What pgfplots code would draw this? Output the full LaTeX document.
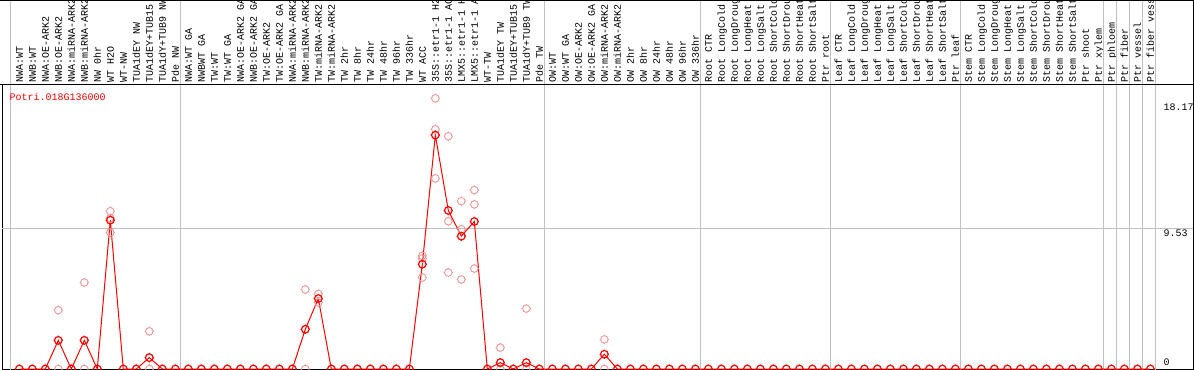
\documentclass[border=0pt]{standalone}
\usepackage{pgfplots}
\pgfplotsset{compat=1.18}
\usepackage{fontspec}
\setmainfont{Liberation Mono}
\definecolor{pinkrep}{RGB}{238,150,150}
\definecolor{gridgray}{RGB}{192,192,192}
\pgfdeclareplotmark{tcirc}{%
  \pgfpathcircle{\pgfpointorigin}{\pgfplotmarksize}%
  \pgfpathmoveto{\pgfqpoint{0pt}{\pgfplotmarksize}}\pgfpathlineto{\pgfqpoint{0pt}{1.22\pgfplotmarksize}}%
  \pgfpathmoveto{\pgfqpoint{0pt}{-\pgfplotmarksize}}\pgfpathlineto{\pgfqpoint{0pt}{-1.22\pgfplotmarksize}}%
  \pgfpathmoveto{\pgfqpoint{\pgfplotmarksize}{0pt}}\pgfpathlineto{\pgfqpoint{1.22\pgfplotmarksize}{0pt}}%
  \pgfpathmoveto{\pgfqpoint{-\pgfplotmarksize}{0pt}}\pgfpathlineto{\pgfqpoint{-1.22\pgfplotmarksize}{0pt}}%
  \pgfusepathqstroke}
\begin{document}
\begin{tikzpicture}[font=\fontsize{10bp}{12bp}\selectfont]
\useasboundingbox (0,0) rectangle (1194bp,370bp);
\clip (0,0) rectangle (1194bp,370bp);
\begin{axis}[
  at={(2bp,1bp)}, anchor=south west, scale only axis,
  width=1191bp, height=284bp,
  xmin=-1.331, xmax=90.28, ymin=0, ymax=19.22,
  clip=false,
  axis line style={line width=1bp},
  xtick={0,...,87},
  xticklabels={NWA:WT,NWB:WT,NWA:OE-ARK2,NWB:OE-ARK2,NWA:miRNA-ARK2,NWB:miRNA-ARK2,NW 0hr,WT H2O,WT-NW,TUA1dEY NW,TUA1dEY+TUB15,TUA1dY+TUB9 NW,Pde NW,
    NWA:WT GA,NWBWT GA,TW:WT,TW:WT GA,NWA:OE-ARK2 GA,NWB:OE-ARK2 GA,TW:OE-ARK2,TW:OE-ARK2 GA,NWA:miRNA-ARK2,NWB:miRNA-ARK2,TW:miRNA-ARK2,TW:miRNA-ARK2,TW 2hr,TW 8hr,TW 24hr,TW 48hr,TW 96hr,TW 336hr,WT ACC,35S::etr1-1 H2,35S::etr1-1 AC,LMX5::etr1-1 H,LMX5::etr1-1 A,WT-TW,TUA1dEY TW,TUA1dEY+TUB15,TUA1dY+TUB9 TW,Pde TW,
    OW:WT,OW:WT GA,OW:OE-ARK2,OW:OE-ARK2 GA,OW:miRNA-ARK2,OW:miRNA-ARK2,OW 2hr,OW 8hr,OW 24hr,OW 48hr,OW 96hr,OW 336hr,
    Root CTR,Root LongCold,Root LongDrought,Root LongHeat,Root LongSalt,Root ShortCold,Root ShortDrought,Root ShortHeat,Root ShortSalt,Ptr root,
    Leaf CTR,Leaf LongCold,Leaf LongDrought,Leaf LongHeat,Leaf LongSalt,Leaf ShortCold,Leaf ShortDrought,Leaf ShortHeat,Leaf ShortSalt,Ptr leaf,
    Stem CTR,Stem LongCold,Stem LongDrought,Stem LongHeat,Stem LongSalt,Stem ShortCold,Stem ShortDrought,Stem ShortHeat,Stem ShortSalt,Ptr shoot,Ptr xylem,
    Ptr phloem,Ptr fiber,Ptr vessel,Ptr fiber vessel},
  xticklabel pos=upper,
  xticklabel style={rotate=90, anchor=west, inner xsep=2bp, inner ysep=0pt, text height=7bp, text depth=0pt},
  ytick=\empty,
  major tick length=0pt,
  tick style={draw=none},
]
\foreach \g in {-0.65,12.4,40.4,52.4,62.4,72.4,83.4,84.4,85.4,86.4,87.4}{
  \edef\tmp{\noexpand\draw[gridgray, line width=1bp] (axis cs:\g,-1) -- (axis cs:\g,26);}\tmp
}
\draw[gridgray, line width=1bp] (axis cs:-1.331,9.53) -- (axis cs:90.28,9.53);

\addplot[only marks, pinkrep, mark=tcirc, mark size=3.8bp, line width=0.9bp] coordinates {
 (3,3.98) (3,0) (5,5.85) (5,0) (7,10.68) (7,9.24) (7,10.2) (10,2.55) (10,0)
 (22,5.38) (22,0) (23,5.08) (23,4.5)
 (31,7.66) (31,7.48) (31,6.19)
 (32,18.32) (32,16.22) (32,12.9)
 (33,15.75) (33,10.0) (33,6.53)
 (34,11.36) (34,9.46) (34,6.06)
 (35,12.11) (35,11.14) (35,6.8)
 (37,1.45) (37,0) (39,4.09) (39,0) (45,2.0) (45,0)
};

\addplot[red, line width=1bp, mark=tcirc, mark size=3.8bp, mark options={line width=1.2bp}] coordinates {
 (0,0) (1,0) (2,0) (3,1.94) (4,0) (5,1.94) (6,0) (7,10.07) (8,0) (9,0) (10,0.77) (11,0) (12,0)
 (13,0) (14,0) (15,0) (16,0) (17,0) (18,0) (19,0) (20,0) (21,0) (22,2.69) (23,4.77) (24,0)
 (25,0) (26,0) (27,0) (28,0) (29,0) (30,0) (31,7.09) (32,15.83) (33,10.73) (34,8.99) (35,9.98)
 (36,0) (37,0.43) (38,0) (39,0.43) (40,0)
 (41,0) (42,0) (43,0) (44,0) (45,1.0) (46,0) (47,0) (48,0) (49,0) (50,0) (51,0) (52,0)
 (53,0) (54,0) (55,0) (56,0) (57,0) (58,0) (59,0) (60,0) (61,0) (62,0)
 (63,0) (64,0) (65,0) (66,0) (67,0) (68,0) (69,0) (70,0) (71,0) (72,0)
 (73,0) (74,0) (75,0) (76,0) (77,0) (78,0) (79,0) (80,0) (81,0) (82,0) (83,0)
 (84,0) (85,0) (86,0) (87,0)
};

\node[anchor=north west, inner sep=0pt, yshift=-3bp] at (axis cs:88,18.17) {18.17};
\node[anchor=north west, inner sep=0pt, yshift=-1bp] at (axis cs:88,9.53) {9.53};
\node[anchor=south west, inner sep=0pt, yshift=3bp] at (axis cs:88,0) {0};
\end{axis}
\draw[line width=1bp] (0,285bp) -- (1194bp,285bp);
\draw[line width=1bp] (1193bp,0) -- (1193bp,370bp);
\draw[line width=1bp] (0,369.5bp) -- (1194bp,369.5bp);
\node[red, anchor=west, inner sep=0pt] at (9.5bp,273bp) {Potri.018G136000};
\end{tikzpicture}
\end{document}
